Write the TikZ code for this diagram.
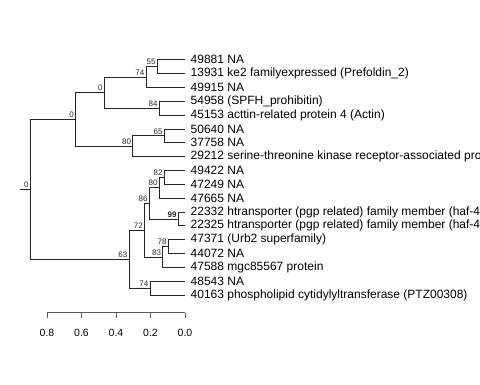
\documentclass[tikz,border=0pt]{standalone}
\usepackage{fontspec}
\setmainfont{Liberation Sans}

\tikzset{
  branch/.style={draw=black!85, line width=0.8pt},
  tiplab/.style={anchor=west, inner xsep=5.5pt, inner ysep=2pt, font=\fontsize{12}{14}\selectfont},
  bootlab/.style={font=\fontsize{8}{9}\selectfont, inner sep=1.5pt, text=black!85},
  axisline/.style={draw=black!65, line width=0.8pt},
  axislab/.style={font=\fontsize{10.5}{12}\selectfont},
}

\begin{document}
\begin{tikzpicture}[x=1pt,y=-1pt]
  \clip (0,0) rectangle (480,384);

  % tips
  \foreach \i/\txt in {0/49881 NA,
                       1/{13931 ke2 familyexpressed (Prefoldin\_2)},
                       2/49915 NA,
                       3/{54958 (SPFH\_prohibitin)},
                       4/{45153 acttin-related protein 4 (Actin)},
                       5/50640 NA,
                       6/37758 NA,
                       7/{29212 serine-threonine kinase receptor-associated pro},
                       8/49422 NA,
                       9/47249 NA,
                       10/47665 NA,
                       11/{22332 htransporter (pgp related) family member (haf-4},
                       12/{22325 htransporter (pgp related) family member (haf-4},
                       13/{47371 (Urb2 superfamily)},
                       14/44072 NA,
                       15/{47588 mgc85567 protein},
                       16/48543 NA,
                       17/{40163 phospholipid cytidylyltransferase (PTZ00308)}}
    \node[tiplab] (l\i) at (185,{59.7+13.84*\i}) {\txt};

  % inner nodes
  \coordinate[label={[bootlab]above left:55}] (n55) at (157.3,66.6);
  \coordinate[label={[bootlab]above left:74}] (n74a) at (146,77.0);
  \coordinate[label={[bootlab]above left:84}] (n84) at (159.3,108.2);
  \coordinate[label={[bootlab]above left:0}] (n0b) at (104.3,92.6);
  \coordinate[label={[bootlab]above left:65}] (n65) at (164.3,135.8);
  \coordinate[label={[bootlab]above left:80}] (n80a) at (132.7,146.2);
  \coordinate[label={[bootlab]above left:0}] (n0a) at (75.5,119.4);
  \coordinate[label={[bootlab]above left:82}] (n82) at (164.3,177.4);
  \coordinate[label={[bootlab]above left:80}] (n80b) at (159.3,187.7);
  \coordinate[label={[bootlab]above left:\textbf{99}}] (n99) at (178.3,218.9);
  \coordinate[label={[bootlab]above left:86}] (n86) at (149.3,203.3);
  \coordinate[label={[bootlab]above left:78}] (n78) at (168.3,246.6);
  \coordinate[label={[bootlab]above left:83}] (n83) at (162.7,256.9);
  \coordinate[label={[bootlab]above left:72}] (n72) at (144.5,230.1);
  \coordinate[label={[bootlab]above left:74}] (n74b) at (150,288.1);
  \coordinate[label={[bootlab]above left:63}] (n63) at (129,259.1);
  \coordinate[label={[bootlab]above left:0}] (root) at (30.3,189.3);
  \coordinate (rootstub) at (20,189.3);

  % branches
  \draw[branch] (rootstub) -- (root);
  \draw[branch] (root) |- (n0a) (root) |- (n63);
  \draw[branch] (n0a) |- (n0b) (n0a) |- (n80a);
  \draw[branch] (n0b) |- (n74a) (n0b) |- (n84);
  \draw[branch] (n74a) |- (n55) (n74a) |- (l2.west);
  \draw[branch] (n55) |- (l0.west) (n55) |- (l1.west);
  \draw[branch] (n84) |- (l3.west) (n84) |- (l4.west);
  \draw[branch] (n80a) |- (n65) (n80a) |- (l7.west);
  \draw[branch] (n65) |- (l5.west) (n65) |- (l6.west);
  \draw[branch] (n63) |- (n72) (n63) |- (n74b);
  \draw[branch] (n72) |- (n86) (n72) |- (n83);
  \draw[branch] (n86) |- (n80b) (n86) |- (n99);
  \draw[branch] (n80b) |- (n82) (n80b) |- (l10.west);
  \draw[branch] (n82) |- (l8.west) (n82) |- (l9.west);
  \draw[branch] (n99) |- (l11.west) (n99) |- (l12.west);
  \draw[branch] (n83) |- (n78) (n83) |- (l15.west);
  \draw[branch] (n78) |- (l13.west) (n78) |- (l14.west);
  \draw[branch] (n74b) |- (l16.west) (n74b) |- (l17.west);

  % scale
  \draw[axisline] (47,312.7) -- (185,312.7);
  \foreach \v [count=\k] in {0.8,0.6,0.4,0.2,0.0} {
    \draw[axisline] ({185-172.5*\v},312.7) -- ++(0,5.5);
    \node[axislab] (tick\k) at ({185-172.5*\v},333) {\v};
  }
\end{tikzpicture}
\end{document}
